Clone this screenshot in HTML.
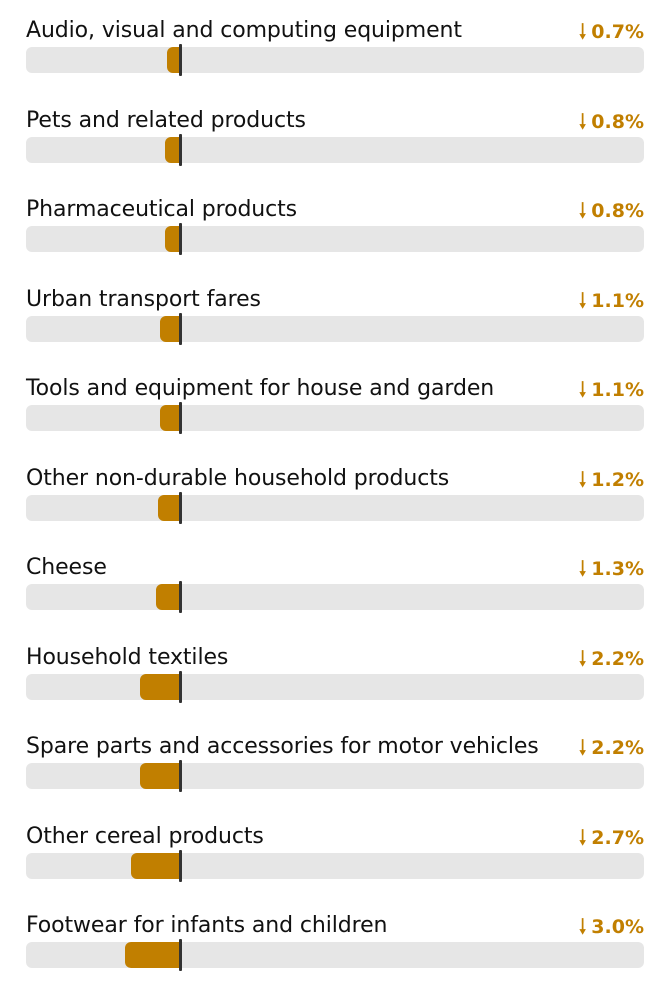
<!DOCTYPE html>
<html><head><style>
body{margin:0;background:#fff;width:670px;height:1000px;font-family:"DejaVu Sans","Liberation Sans",sans-serif;}
.row{position:absolute;left:26px;width:618px;height:90px;}
.lab{position:absolute;left:0;top:18px;font-size:22px;color:#111;white-space:nowrap;letter-spacing:-0.1px;}
.val{position:absolute;right:0;top:17px;font-size:19px;color:#c17f00;font-weight:bold;}
.val b{font-size:20px;margin-right:5px;}
.track{position:absolute;left:0;top:47px;width:618px;height:26px;background:#e6e6e6;border-radius:6px;}
.bar{position:absolute;top:47px;height:26px;background:#c17f00;border-radius:6px 0 0 6px;}
.zero{position:absolute;left:153px;top:44px;width:3px;height:32px;background:#333;border-radius:1px;}
</style></head><body>
<div id="c"></div>
<script>
var d=[["Audio, visual and computing equipment",0.7],["Pets and related products",0.8],["Pharmaceutical products",0.8],["Urban transport fares",1.1],["Tools and equipment for house and garden",1.1],["Other non-durable household products",1.2],["Cheese",1.3],["Household textiles",2.2],["Spare parts and accessories for motor vehicles",2.2],["Other cereal products",2.7],["Footwear for infants and children",3.0]];
var h="";
d.forEach(function(r,i){var w=r[1]*18.3;var top=i*89.5;
h+='<div class="row" style="top:'+top+'px"><div class="lab">'+r[0]+'</div><div class="val"><b>&#129043;</b>'+r[1].toFixed(1)+'%</div><div class="track"></div><div class="bar" style="left:'+(154-w)+'px;width:'+w+'px"></div><div class="zero"></div></div>';});
document.getElementById("c").innerHTML=h;
</script>
</body></html>
